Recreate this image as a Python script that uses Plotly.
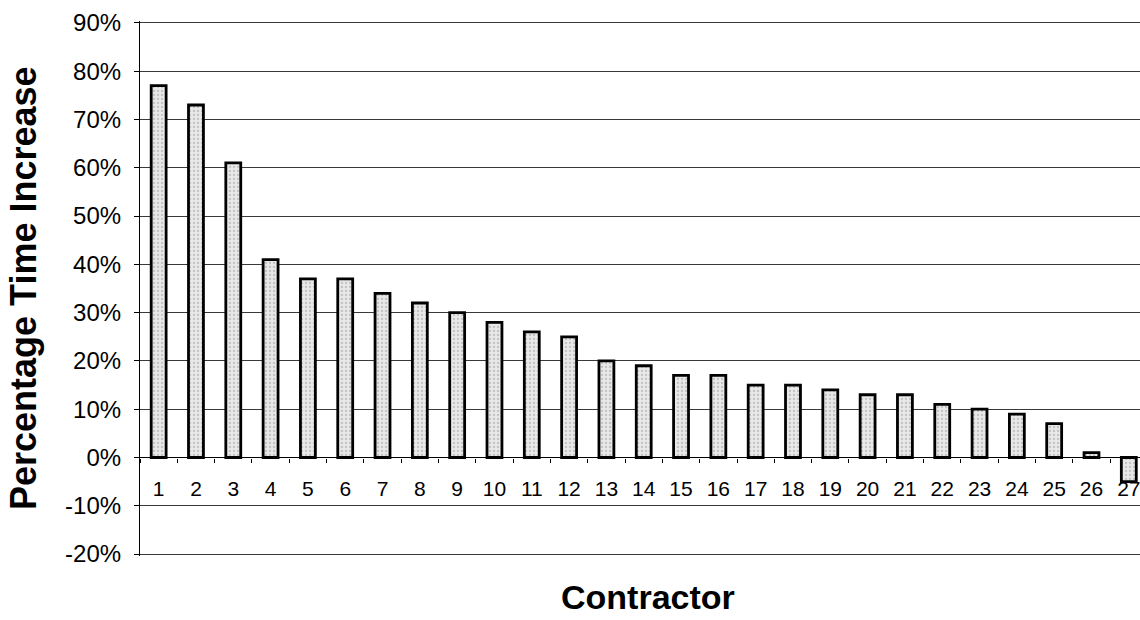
import plotly.graph_objects as go

# Contractor numbers and their percentage time increase
contractors = [str(i) for i in range(1, 28)]
time_increase = [77, 73, 61, 41, 37, 37, 34, 32, 30, 28, 26, 25, 20, 19,
                 17, 17, 15, 15, 14, 13, 13, 11, 10, 9, 7, 1, -5]

# Y-axis tick values and their labels
y_ticks = [-20, -10, 0, 10, 20, 30, 40, 50, 60, 70, 80, 90]
y_tick_labels = ["-20%", "-10%", "0%", "10%", "20%", "30%", "40%",
                 "50%", "60%", "70%", "80%", "90%"]

FONT = "Liberation Sans, Arial, sans-serif"
Y_MIN, Y_MAX = -20, 90
PAD = 0.4  # keeps the outer gridlines (90% and -20%) clear of the plot edge

fig = go.Figure(
    go.Bar(
        x=contractors,
        y=time_increase,
        marker=dict(
            color="#e2e2e2",
            line=dict(color="#000000", width=2.8),
            pattern=dict(shape=".", fgcolor="#9c9c9c", bgcolor="#e8e8e8",
                         size=4, solidity=0.25),
        ),
        showlegend=False,
    )
)

fig.update_layout(
    width=1140,
    height=620,
    margin=dict(l=140, r=0, t=21, b=64),
    paper_bgcolor="white",
    plot_bgcolor="white",
    bargap=0.6,
    font=dict(family=FONT, color="#000000"),
    xaxis=dict(
        type="category",
        range=[-0.5, 26.3],
        anchor="free",
        position=(0 - (Y_MIN - PAD)) / ((Y_MAX + PAD) - (Y_MIN - PAD)),
        showline=True,
        linecolor="#000000",
        linewidth=1.2,
        showgrid=False,
        ticks="outside",
        tickson="boundaries",
        ticklen=4,
        tickcolor="#000000",
        tickfont=dict(size=21, family=FONT, color="#000000"),
        ticklabelstandoff=12,
    ),
    yaxis=dict(
        range=[Y_MIN - PAD, Y_MAX + PAD],
        tickvals=y_ticks,
        ticktext=y_tick_labels,
        showline=True,
        linecolor="#000000",
        linewidth=1.2,
        showgrid=True,
        gridcolor="#3a3a3a",
        gridwidth=1,
        zeroline=True,
        zerolinecolor="#000000",
        zerolinewidth=1.2,
        ticks="outside",
        ticklen=5,
        tickcolor="#000000",
        tickfont=dict(size=24, family=FONT, color="#000000"),
        ticklabelstandoff=8,
    ),
    annotations=[
        dict(
            text="<b>Percentage Time Increase</b>",
            xref="paper", yref="paper",
            x=-0.1165, y=0.5,
            xanchor="center", yanchor="middle",
            textangle=-90,
            showarrow=False,
            font=dict(size=36, family=FONT, color="#000000"),
        ),
        dict(
            text="<b>Contractor</b>",
            xref="paper", yref="paper",
            x=0.508, y=-0.1168,
            xanchor="center", yanchor="bottom",
            showarrow=False,
            font=dict(size=34, family=FONT, color="#000000"),
        ),
    ],
)

fig.write_html("out.html")
